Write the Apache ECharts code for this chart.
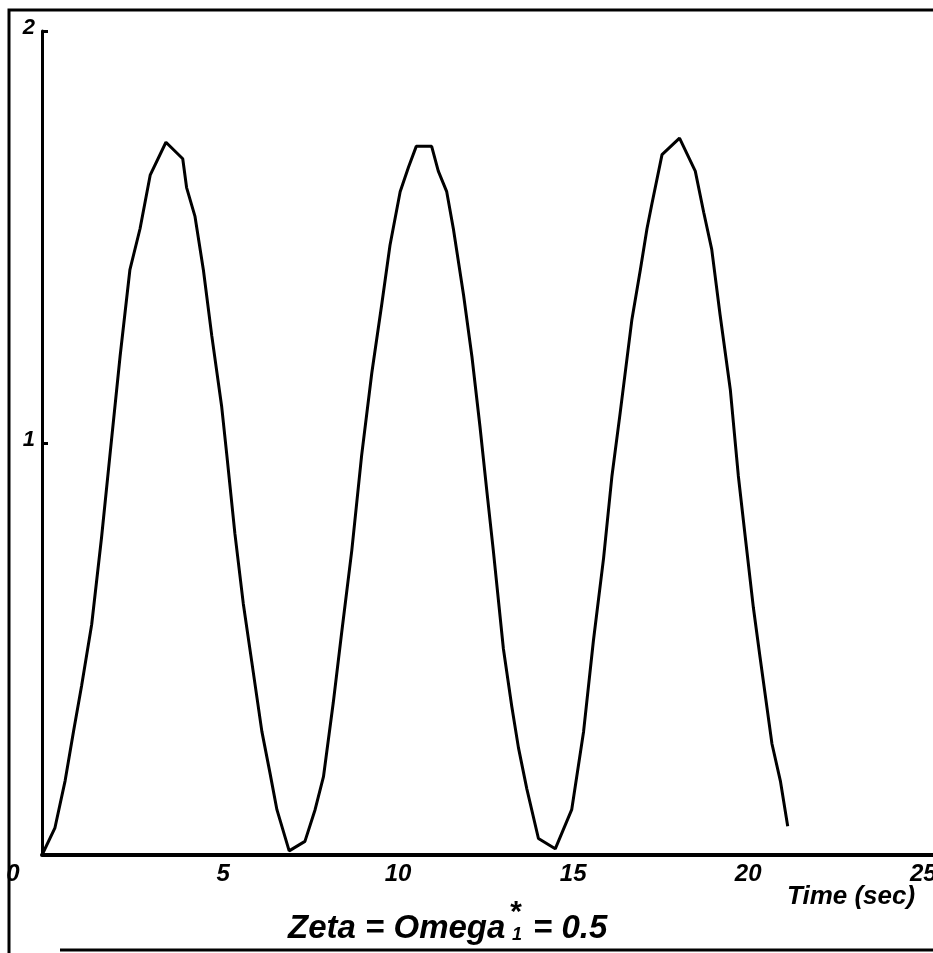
<!DOCTYPE html>
<html>
<head>
<meta charset="utf-8">
<script src="https://cdn.jsdelivr.net/npm/echarts@6/dist/echarts.min.js"></script>
<style>
  html, body { margin: 0; padding: 0; background: #fff; }
  #chart { width: 933px; height: 953px; }
</style>
</head>
<body>
<div id="chart"></div>
<script>
// Response history: time (s) and amplitude sampled along the trace
const timeSec = [
  0, 0.37, 0.66, 0.9, 1.13, 1.42, 1.70, 1.94, 2.23, 2.51, 2.80, 3.09, 3.54,
  4.02, 4.13, 4.37, 4.61, 4.85, 5.13, 5.28, 5.51, 5.75, 5.99, 6.28, 6.51, 6.71, 7.06,
  7.09, 7.51, 7.8, 8.04, 8.32, 8.56, 8.85, 9.13, 9.42, 9.71, 9.94, 10.23, 10.47, 10.69,
  11.13, 11.32, 11.56, 11.75, 12.04, 12.28, 12.51, 12.71, 12.89, 13.18, 13.42, 13.61, 13.85, 14.18, 14.66,
  15.13, 15.47, 15.75, 16.04, 16.28, 16.51, 16.85, 17.09, 17.28, 17.42, 17.71, 18.21,
  18.66, 18.9, 19.13, 19.37, 19.66, 19.89, 20.09, 20.32, 20.51, 20.85, 21.09, 21.3
];
const amplitude = [
  0, 0.066, 0.18, 0.30, 0.41, 0.56, 0.77, 0.97, 1.21, 1.42, 1.52, 1.65, 1.73,
  1.69, 1.62, 1.55, 1.42, 1.26, 1.09, 0.97, 0.78, 0.61, 0.47, 0.30, 0.20, 0.11, 0.01,
  0.008, 0.033, 0.11, 0.19, 0.37, 0.54, 0.74, 0.97, 1.17, 1.34, 1.48, 1.61, 1.67, 1.72,
  1.72, 1.66, 1.61, 1.52, 1.36, 1.21, 1.04, 0.88, 0.74, 0.50, 0.36, 0.26, 0.16, 0.04, 0.015,
  0.11, 0.30, 0.52, 0.72, 0.92, 1.07, 1.30, 1.42, 1.52, 1.58, 1.70, 1.74,
  1.66, 1.56, 1.47, 1.31, 1.13, 0.92, 0.77, 0.60, 0.48, 0.27, 0.18, 0.07
];
const xTicks = [0, 5, 10, 15, 20, 25];
const yTicks = [0, 1, 2];
const xAxisTitle = 'Time (sec)';

const FONT = '"Liberation Sans", Arial, sans-serif';
const chart = echarts.init(document.getElementById('chart'), null, { renderer: 'canvas' });

chart.setOption({
  animation: false,
  backgroundColor: '#ffffff',
  grid: { left: 42, right: 0, top: 31, bottom: 98, outerBoundsMode: 'none', containLabel: false },
  xAxis: {
    type: 'value',
    min: xTicks[0],
    max: 25.45,
    interval: 5,
    splitLine: { show: false },
    axisTick: { show: false },
    axisLine: { show: true, onZero: false, lineStyle: { color: '#000', width: 4 } },
    axisLabel: {
      margin: 7,
      showMaxLabel: false,
      hideOverlap: false,
      formatter: v => (v === 0 ? '{z|0}' : '{n|' + v + '}'),
      rich: {
        n: { fontFamily: FONT, fontWeight: 'bold', fontStyle: 'italic', fontSize: 24, color: '#000', padding: [0, 0, 0, 12] },
        z: { fontFamily: FONT, fontWeight: 'bold', fontStyle: 'italic', fontSize: 24, color: '#000', padding: [0, 58, 0, 0] }
      }
    }
  },
  yAxis: {
    type: 'value',
    min: yTicks[0],
    max: yTicks[yTicks.length - 1],
    interval: 1,
    splitLine: { show: false },
    axisLine: { show: true, lineStyle: { color: '#000', width: 3 } },
    axisTick: { show: true, inside: true, length: 6, lineStyle: { color: '#000', width: 3 } },
    axisLabel: {
      showMinLabel: false,
      margin: 7,
      formatter: v => '{a|' + v + '}',
      rich: {
        a: { fontFamily: FONT, fontWeight: 'bold', fontStyle: 'italic', fontSize: 22, color: '#000', padding: [0, 0, 6, 0] }
      }
    }
  },
  series: [{
    type: 'line',
    data: timeSec.map((t, i) => [t, amplitude[i]]),
    showSymbol: false,
    symbol: 'none',
    lineStyle: { color: '#000', width: 3 },
    z: 3
  }],
  graphic: [
    // page frame
    { type: 'polyline', shape: { points: [[9, 953], [9, 10], [933, 10]] }, style: { stroke: '#000', lineWidth: 3, fill: null } },
    { type: 'line', shape: { x1: 60, y1: 950, x2: 933, y2: 950 }, style: { stroke: '#000', lineWidth: 3 } },
    // axis title
    { type: 'text', left: 787, top: 884,
      style: { text: xAxisTitle, fontFamily: FONT, fontWeight: 'bold', fontStyle: 'italic', fontSize: 26, fill: '#000' } },
    // parameter caption
    { type: 'text', left: 288, top: 912,
      style: { text: 'Zeta = Omega', fontFamily: FONT, fontWeight: 'bold', fontStyle: 'italic', fontSize: 33, fill: '#000' } },
    { type: 'text', left: 509, top: 898,
      style: { text: '*', fontFamily: FONT, fontWeight: 'bold', fontStyle: 'italic', fontSize: 30, fill: '#000' } },
    { type: 'text', left: 512, top: 926,
      style: { text: '1', fontFamily: FONT, fontWeight: 'bold', fontStyle: 'italic', fontSize: 18, fill: '#000' } },
    { type: 'text', left: 533, top: 912,
      style: { text: '= 0.5', fontFamily: FONT, fontWeight: 'bold', fontStyle: 'italic', fontSize: 33, fill: '#000' } }
  ]
});
</script>
</body>
</html>
